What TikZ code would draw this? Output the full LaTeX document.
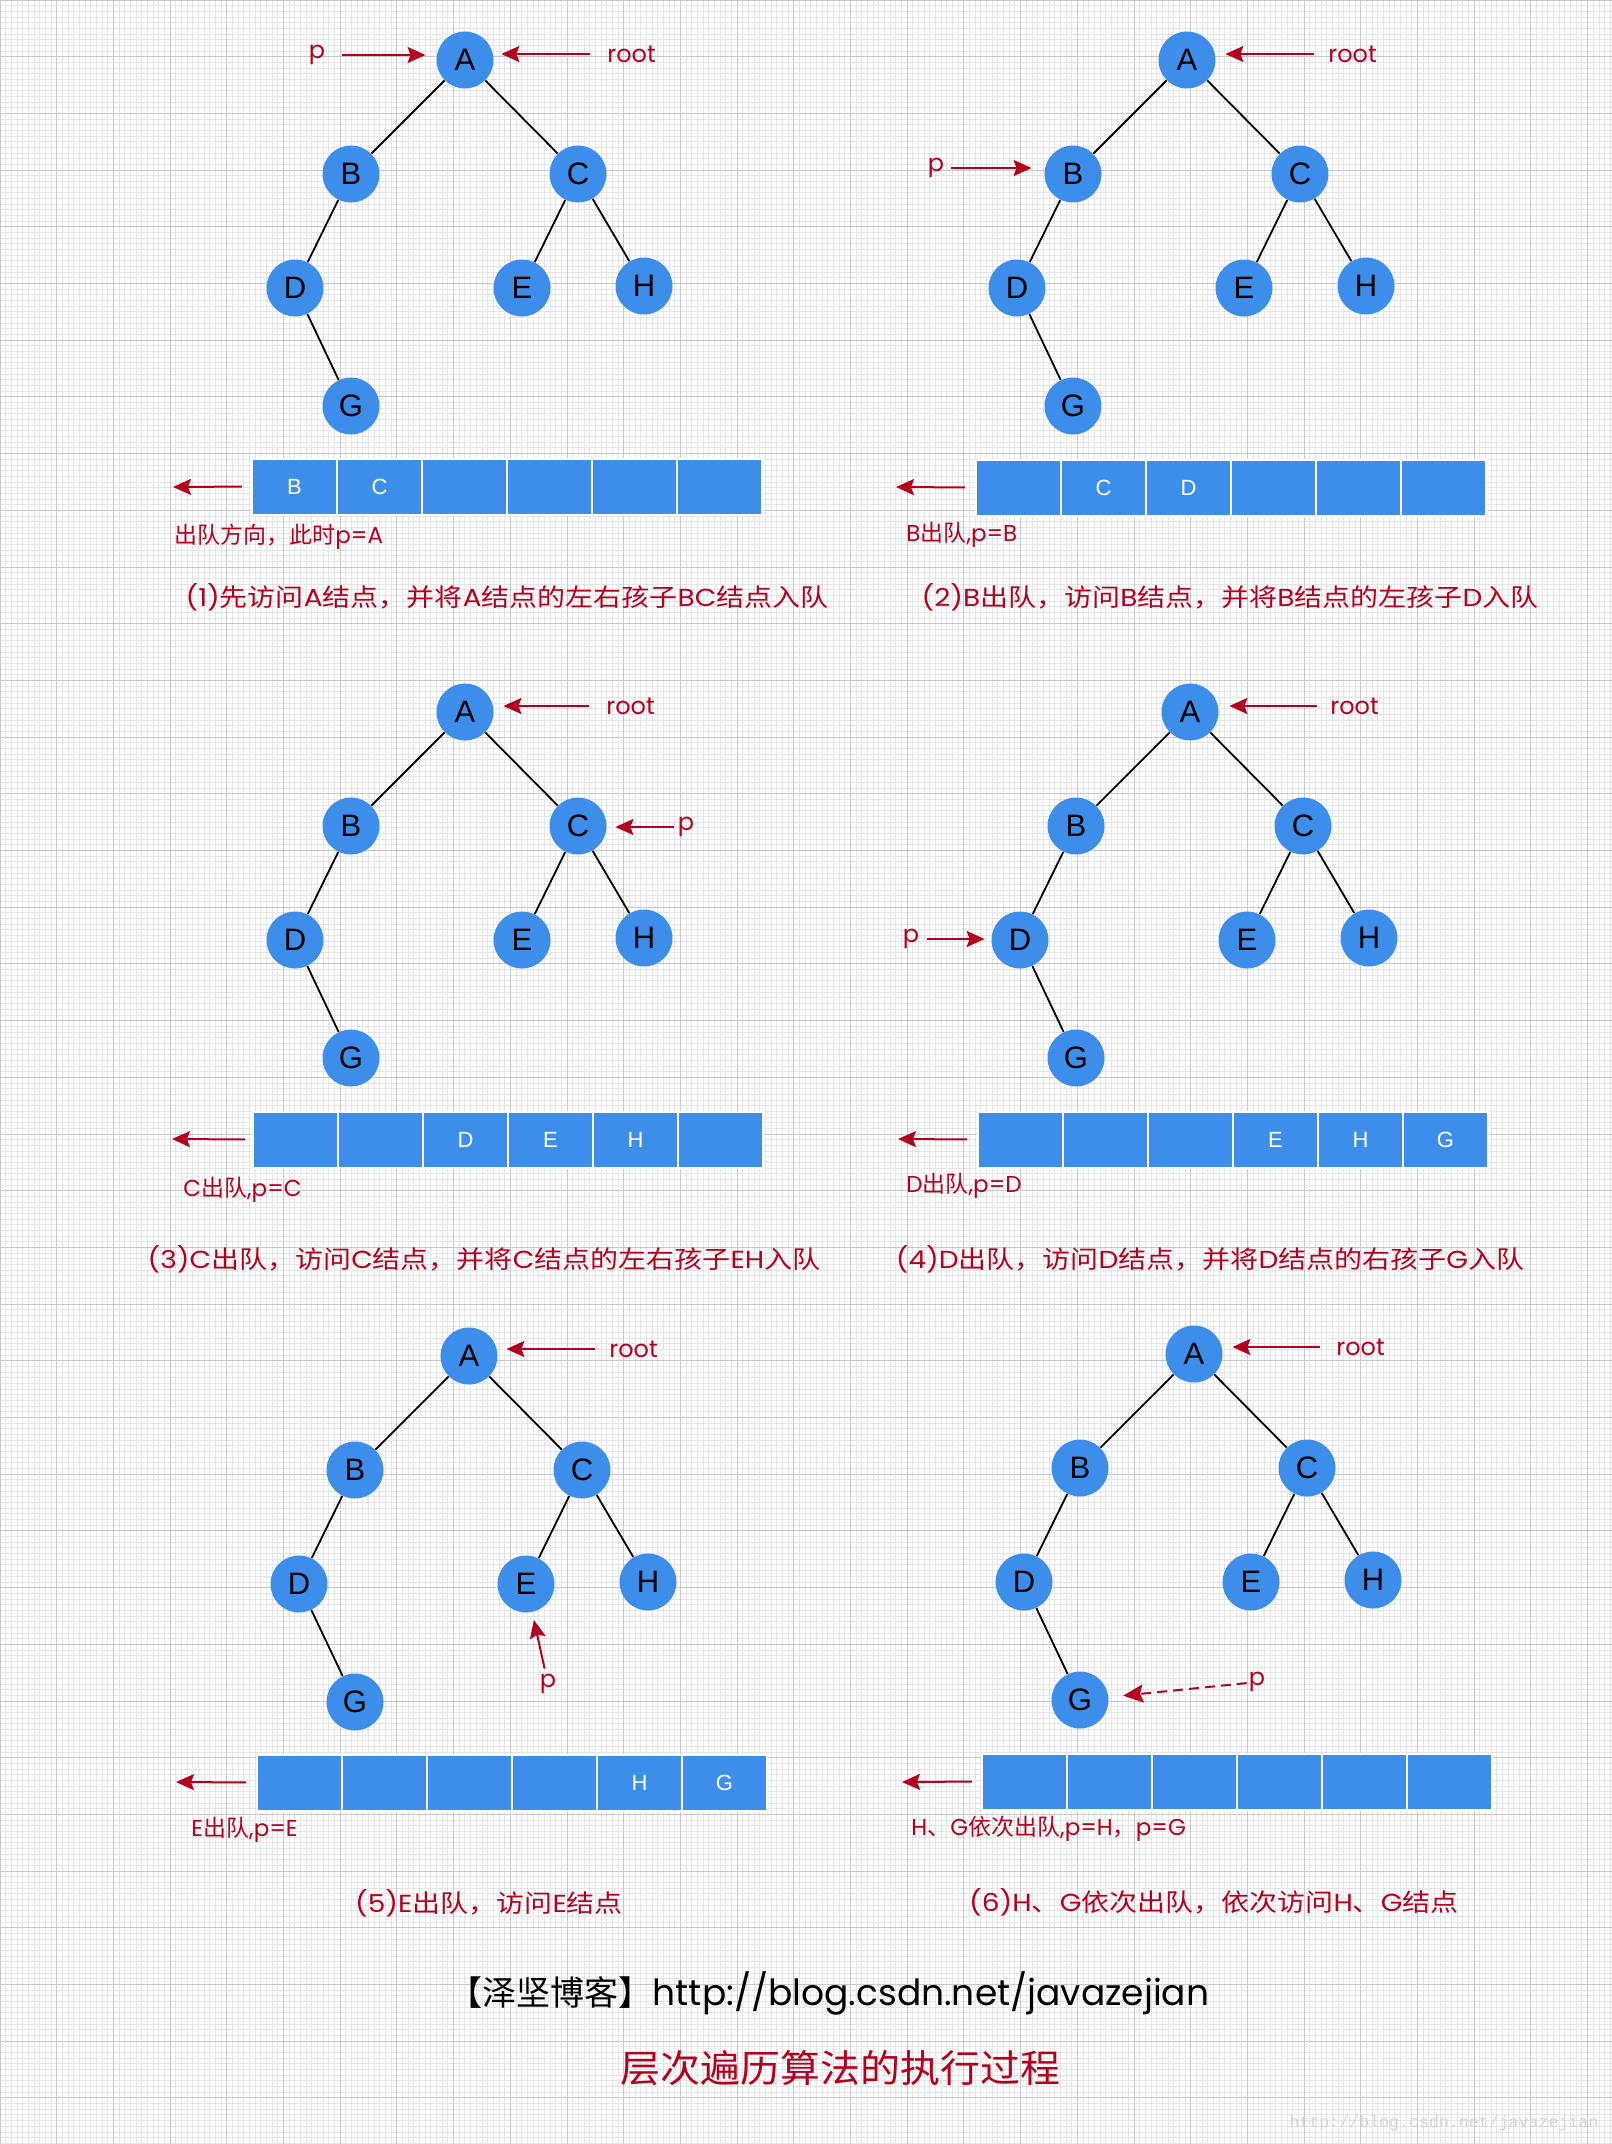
\documentclass[tikz,border=0pt]{standalone}
\usepackage{fontspec}
\usepackage{graphicx}
\usetikzlibrary{arrows.meta}
\newfontfamily\cjk{Noto Sans CJK SC}
\newfontfamily\pop{Poppins}
\newfontfamily\ars{Liberation Sans}
\newfontfamily\wmono{Liberation Mono}
\newcommand\lat[1]{{\pop #1}}
\newcommand\sqz[1]{\scalebox{1}[0.88]{#1}}
\definecolor{nblue}{RGB}{61,142,234}
\definecolor{nred}{RGB}{180,0,30}
\definecolor{gminor}{RGB}{228,228,228}
\definecolor{gmajor}{RGB}{200,200,200}
\definecolor{wmark}{RGB}{212,212,212}
\tikzset{
 tn/.style={circle, fill=nblue, minimum size=28.5pt, inner sep=0pt, font=\ars\fontsize{15.5}{16}\selectfont},
 tedge/.style={line width=0.9pt, black},
 cellbox/.style={rectangle, fill=nblue, draw=white, line width=1pt, minimum width=42.5pt, minimum height=28pt, inner sep=0pt, text=white, font=\ars\fontsize{11}{12}\selectfont},
 rarrow/.style={draw=nred, line width=1pt, -{Stealth[length=9pt,width=8pt,inset=1.5pt]}},
 darrow/.style={draw=nred, line width=1pt, dash pattern=on 5pt off 3pt, -{Stealth[length=10pt,width=9pt,inset=1.5pt]}},
 ptext/.style={text=nred, inner sep=0pt, font=\pop\fontsize{12}{14}\selectfont},
 rtext/.style={text=nred, inner sep=0pt, anchor=west, font=\pop\fontsize{12}{14}\selectfont},
 lbltext/.style={text=nred, inner sep=0pt, anchor=west, font=\cjk\fontsize{11.5}{13}\selectfont},
 captext/.style={text=nred, inner sep=0pt, font=\cjk\fontsize{14}{16}\selectfont},
}
\newcommand\tree[3]{%
 \node[tn] (A#1) at (#2,#3) {A};
 \node[tn] (B#1) at ([shift={(-114,114)}]A#1) {B};
 \node[tn] (C#1) at ([shift={(113,114)}]A#1) {C};
 \node[tn] (D#1) at ([shift={(-170,228)}]A#1) {D};
 \node[tn] (E#1) at ([shift={(57,228)}]A#1) {E};
 \node[tn] (H#1) at ([shift={(179,226)}]A#1) {H};
 \node[tn] (G#1) at ([shift={(-114,346)}]A#1) {G};
 \draw[tedge] (A#1) -- (B#1) (A#1) -- (C#1) (B#1) -- (D#1) (D#1) -- (G#1) (C#1) -- (E#1) (C#1) -- (H#1);
}
\newcommand\queue[9]{%
 \node[cellbox] (Q#1c1) at (#2+42.5,#3+27.5) {#4};
 \node[cellbox] (Q#1c2) at (#2+127.5,#3+27.5) {#5};
 \node[cellbox] (Q#1c3) at (#2+212.5,#3+27.5) {#6};
 \node[cellbox] (Q#1c4) at (#2+297.5,#3+27.5) {#7};
 \node[cellbox] (Q#1c5) at (#2+382.5,#3+27.5) {#8};
 \node[cellbox] (Q#1c6) at (#2+467.5,#3+27.5) {#9};
}
\begin{document}
\begin{tikzpicture}[x=0.5pt,y=-0.5pt]
\fill[white] (0,0) rectangle (1612,2144);
\path[use as bounding box] (0,0) rectangle (1612,2144);
\draw[gminor, line width=0.45pt, step=2.835pt] (0,2144) grid (1612,0);
\draw[gmajor, line width=0.5pt, step=28.35pt] (0,2144) grid (1612,0);

% ---------- panel 1
\tree{1}{465}{60}
\node[rtext] (r1) at (607,54) {root};
\draw[rarrow, shorten <=8.5pt, shorten >=3.75pt] (r1.west) -- (r1 -| A1.east);
\node[ptext] (p1) at (317,55) {p};
\draw[rarrow, shorten <=12.5pt, shorten >=5.25pt] (p1.center) -- (p1 -| A1.west);
\queue{1}{252}{459}{B}{C}{}{}{}{}
\coordinate (QT1) at (173,487);
\draw[rarrow, shorten <=4.5pt] (Q1c1.west) -- (QT1);
\node[lbltext] (L1) at (174,537) {出队方向，此时\lat{p=A}};
\node[captext] (C1t) at (507,597) {\sqz{\lat{(1)}先访问\lat{A}结点，并将\lat{A}结点的左右孩子\lat{BC}结点入队}};

% ---------- panel 2
\tree{2}{1187}{60}
\node[rtext] (r2) at (1328,54) {root};
\draw[rarrow, shorten <=7pt, shorten >=4.75pt] (r2.west) -- (r2 -| A2.east);
\node[ptext] (p2) at (936,168) {p};
\draw[rarrow, shorten <=7.5pt, shorten >=6.25pt] (p2.center) -- (p2 -| B2.west);
\queue{2}{976}{460}{}{C}{D}{}{}{}
\coordinate (QT2) at (896,487);
\draw[rarrow, shorten <=5pt] (Q2c1.west) -- (QT2);
\node[lbltext] (L2) at (906,535) {\lat{B}出队\lat{,p=B}};
\node[captext] (C2t) at (1230,597) {\sqz{\lat{(2)B}出队，访问\lat{B}结点，并将\lat{B}结点的左孩子\lat{D}入队}};

% ---------- panel 3
\tree{3}{465}{712}
\node[rtext] (r3) at (606,706) {root};
\draw[rarrow, shorten <=8.5pt, shorten >=4.75pt] (r3.west) -- (r3 -| A3.east);
\node[ptext] (p3) at (686,827) {p};
\draw[rarrow, shorten <=6pt, shorten >=4.25pt] (p3.center) -- (p3 -| C3.east);
\queue{3}{253}{1112}{}{}{D}{E}{H}{}
\coordinate (QT3) at (172,1139);
\draw[rarrow, shorten <=3.5pt] (Q3c1.west) -- (QT3);
\node[lbltext] (L3) at (183,1190) {\lat{C}出队\lat{,p=C}};
\node[captext] (C3t) at (484,1259) {\sqz{\lat{(3)C}出队，访问\lat{C}结点，并将\lat{C}结点的左右孩子\lat{EH}入队}};

% ---------- panel 4
\tree{4}{1190}{712}
\node[rtext] (r4) at (1330,706) {root};
\draw[rarrow, shorten <=6.5pt, shorten >=5.25pt] (r4.west) -- (r4 -| A4.east);
\node[ptext] (p4) at (911,939) {p};
\draw[rarrow, shorten <=8pt, shorten >=3.25pt] (p4.center) -- (p4 -| D4.west);
\queue{4}{978}{1112}{}{}{}{E}{H}{G}
\coordinate (QT4) at (898,1139);
\draw[rarrow, shorten <=5pt] (Q4c1.west) -- (QT4);
\node[lbltext] (L4) at (906,1186) {\lat{D}出队\lat{,p=D}};
\node[captext] (C4t) at (1210,1259) {\sqz{\lat{(4)D}出队，访问\lat{D}结点，并将\lat{D}结点的右孩子\lat{G}入队}};

% ---------- panel 5
\tree{5}{469}{1356}
\node[rtext] (r5) at (609,1349) {root};
\draw[rarrow, shorten <=7pt, shorten >=4.25pt] (r5.west) -- (r5 -| A5.east);
\node[ptext] (p5) at (548,1684) {p};
\draw[rarrow, shorten <=7.9pt, shorten >=4pt] (p5.center) -- (E5);
\queue{5}{257}{1755}{}{}{}{}{H}{G}
\coordinate (QT5) at (176,1782);
\draw[rarrow, shorten <=5pt] (Q5c1.west) -- (QT5);
\node[lbltext] (L5) at (191,1830) {\lat{E}出队\lat{,p=E}};
\node[captext] (C5t) at (489,1903) {\sqz{\lat{(5)E}出队，访问\lat{E}结点}};

% ---------- panel 6
\tree{6}{1194}{1354}
\node[rtext] (r6) at (1336,1347) {root};
\draw[rarrow, shorten <=8pt, shorten >=4.75pt] (r6.west) -- (r6 -| A6.east);
\node[ptext] (p6) at (1257,1682) {p};
\draw[darrow, shorten <=5.2pt, shorten >=7.25pt] (p6.center) -- (G6);
\queue{6}{982}{1754}{}{}{}{}{}{}
\coordinate (QT6) at (902,1782);
\draw[rarrow, shorten <=4.5pt] (Q6c1.west) -- (QT6);
\node[lbltext] (L6) at (911,1829) {\lat{H}、\lat{G}依次出队\lat{,p=H}，\lat{p=G}};
\node[captext] (C6t) at (1214,1902) {\sqz{\lat{(6)H}、\lat{G}依次出队，依次访问\lat{H}、\lat{G}结点}};

% ---------- footer
\node[inner sep=0pt, text=black] (foot) at (829,1993) {{\cjk\fontsize{17}{19}\selectfont 【泽坚博客】}{\pop\fontsize{18}{20}\selectfont http://blog.csdn.net/javazejian}};
\node[inner sep=0pt, text=nred, font=\cjk\fontsize{20}{22}\selectfont] (title) at (840,2068) {\scalebox{1}[0.95]{层次遍历算法的执行过程}};
\node[inner sep=0pt, text=wmark, font=\wmono\fontsize{8.3}{10}\selectfont] (wm) at (1444,2123) {http://blog.csdn.net/javazejian};
\end{tikzpicture}
\end{document}
